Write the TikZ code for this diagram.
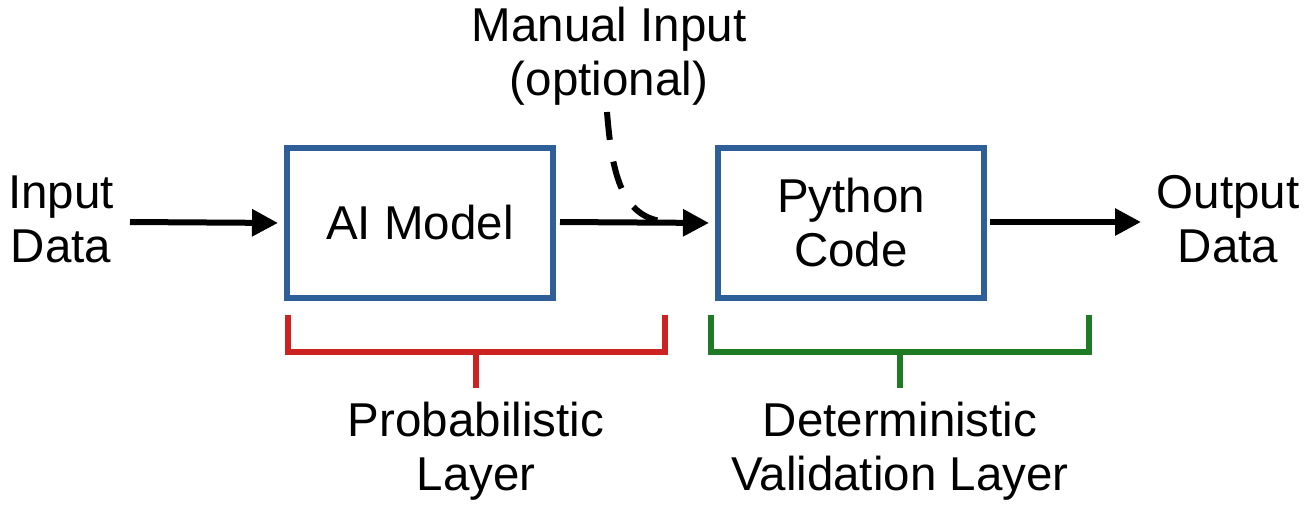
\documentclass[tikz,border=0pt]{standalone}
\usepackage{fontspec}
\setmainfont{Liberation Sans}
\usetikzlibrary{arrows.meta}
\definecolor{boxblue}{HTML}{2E5F99}
\definecolor{brred}{HTML}{CC2222}
\definecolor{brgreen}{HTML}{1F7A25}
\begin{document}
\begin{tikzpicture}[x=1pt,y=-1pt,
  txt/.style={align=center,font=\fontsize{47.5}{54}\selectfont,inner sep=0pt},
  blk/.style={draw=boxblue,line width=6pt,minimum width=266pt,minimum height=150pt,inner sep=0pt,align=center,font=\fontsize{47.5}{54}\selectfont},
  flow/.style={line width=6pt,-{Triangle[length=26pt,width=26pt]}},
  brk/.style={line width=6pt}]
\useasboundingbox (0,0) rectangle (1314,511);
\node[blk] (ai) at (420,223) {AI Model};
\node[blk] (py) at (851,223) {Python\\Code};
\node[txt] (in) at (61,219) {Input\\Data};
\node[txt] (out) at (1228,219) {Output\\Data};
\node[txt] (man) at (609,56) {Manual Input\\(optional)};
\node[txt] (prob) at (476,451) {Probabilistic\\Layer};
\node[txt] (det) at (900,451) {Deterministic\\Validation Layer};
\coordinate (a1) at (130,222);
\coordinate (a2) at (560,222);
\coordinate (a3) at (990,222);
\coordinate (ms) at (607,112);
\coordinate (mj) at (672,222);
\draw[flow,shorten >=6pt] (a1) -- (ai.west);
\draw[flow,shorten >=6pt] (a2) -- (py.west);
\draw[flow] (a3) -- (1141,222) coordinate (oe);
\draw[line width=6pt,dashed,dash pattern=on 28pt off 22pt] (ms) .. controls (612,175) and (622,222) .. (mj);
% brackets
\coordinate (r1) at (288,315); \coordinate (r2) at (665,315); \coordinate (rs) at (476,388);
\draw[brk,draw=brred] (r1) |- (r2 |- 0,352) -- (r2);
\draw[brk,draw=brred] (rs |- 0,352) -- (rs);
\coordinate (g1) at (711,315); \coordinate (g2) at (1089,315); \coordinate (gs) at (900,388);
\draw[brk,draw=brgreen] (g1) |- (g2 |- 0,352) -- (g2);
\draw[brk,draw=brgreen] (gs |- 0,352) -- (gs);
\end{tikzpicture}
\end{document}
